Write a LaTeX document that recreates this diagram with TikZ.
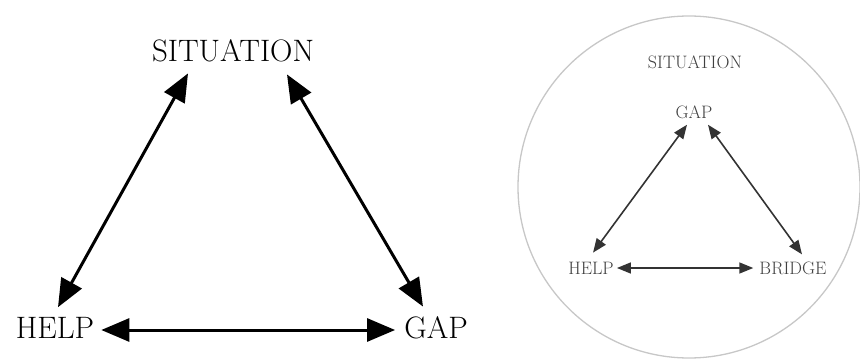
\documentclass[tikz,border=0pt]{standalone}
\usepackage{fontspec}
\usetikzlibrary{arrows.meta,calc}
\begin{document}
\begin{tikzpicture}[x=1pt,y=-1pt,
  big/.style={font=\fontsize{31}{31}\selectfont, inner sep=0pt, text=black},
  small/.style={font=\fontsize{18}{18}\selectfont, inner sep=0pt, text=black!75},
  bigarrow/.style={line width=3pt, {Triangle[length=28pt,width=23pt]}-{Triangle[length=28pt,width=23pt]}},
  smallarrow/.style={line width=1.6pt, draw=black!80, {Triangle[length=14pt,width=11pt]}-{Triangle[length=14pt,width=11pt]}},
  frame/.style={circle, draw=black!22, line width=1.3pt, minimum size=342pt, inner sep=0pt}]
\useasboundingbox (0,0) rectangle (860,361);
% left diagram
\node[big] (sit) at (233,51) {SITUATION};
\node[big] (help) at (55,328) {HELP};
\node[big] (gap) at (436,328) {GAP};
\draw[bigarrow] ($(help.north)+(3,-10)$) -- ($(sit.south)+(-45,11)$);
\draw[bigarrow] ($(sit.south)+(54,12)$) -- ($(gap.north)+(-13,-10)$);
\draw[bigarrow] ($(help.east)+(7,2)$) -- ($(gap.west)+(-9,2)$);
% right diagram
\node[frame] (circ) at (689,187) {};
\node[small] (sit2) at (695,62) {SITUATION};
\node[small] (gap2) at (694,112) {GAP};
\node[small] (help2) at (591,268) {HELP};
\node[small] (bridge) at (793,268) {BRIDGE};
\draw[smallarrow] ($(help2.north)+(2,-9)$) -- ($(gap2.south)+(-7,6)$);
\draw[smallarrow] ($(gap2.south)+(14,6)$) -- ($(bridge.north)+(9,-7)$);
\draw[smallarrow] ($(help2.east)+(3,0)$) -- ($(bridge.west)+(-6,0)$);
\end{tikzpicture}
\end{document}
